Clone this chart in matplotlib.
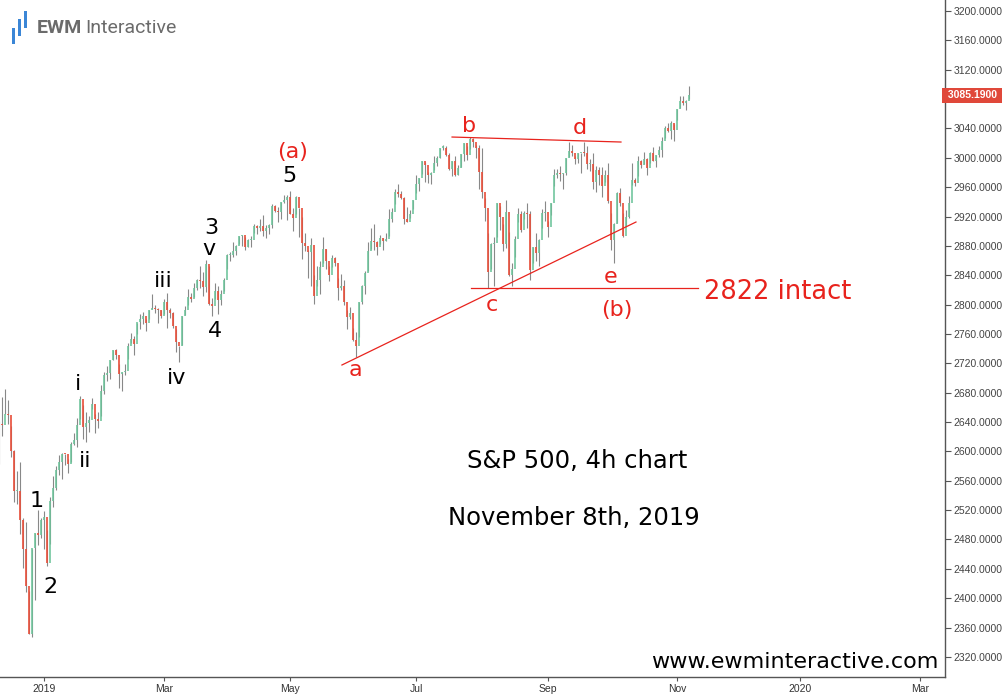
import numpy as np
import pandas as pd
import matplotlib
matplotlib.use('Agg')
from matplotlib import pyplot as plt
from matplotlib.patches import Rectangle
import matplotlib.transforms as mtransforms


# S&P 500 daily bars, Dec 10 2018 -> Nov 7 2019
highs = [2641, 2674, 2685, 2670, 2635, 2602, 2573, 2585, 2509, 2504, 2410, 2467, 2489, 2520, 2509,  # Dec
         2519, 2493, 2538, 2566, 2580, 2595, 2598, 2597, 2589, 2613, 2625, 2645, 2675, 2663, 2653, 2648, 2673, 2651, 2653, 2690, 2708,  # Jan
         2716, 2725, 2738, 2739, 2719, 2708, 2719, 2748, 2761, 2757, 2775, 2787, 2790, 2781, 2793, 2814, 2800, 2795, 2793,  # Feb
         2808, 2816, 2795, 2790, 2767, 2743, 2784, 2798, 2821, 2816, 2830, 2835, 2852, 2844, 2861, 2853, 2809, 2830, 2826, 2820, 2836,  # Mar
         2869, 2872, 2885, 2881, 2894, 2895, 2892, 2889, 2894, 2910, 2909, 2916, 2922, 2908, 2910, 2937, 2936, 2933, 2940, 2949, 2949,  # Apr
         2955, 2932, 2948, 2932, 2919, 2898, 2875, 2891, 2840, 2852, 2859, 2892, 2876, 2853, 2868, 2865, 2836, 2841, 2834, 2792, 2797, 2768,  # May
         2763, 2804, 2827, 2846, 2885, 2904, 2910, 2886, 2895, 2891, 2898, 2930, 2932, 2958, 2964, 2955, 2946, 2933, 2929, 2943,  # Jun
         2977, 2973, 2996, 2994, 2980, 2981, 3003, 3003, 3014, 3018, 3016, 3006, 2996, 3002, 2990, 3005, 3020, 3016, 3028, 3027, 3018, 3017,  # Jul
         3014, 2945, 2898, 2884, 2892, 2939, 2935, 2910, 2943, 2899, 2856, 2893, 2932, 2927, 2928, 2939, 2928, 2879, 2898, 2890, 2930, 2941,  # Aug
         2914, 2938, 2985, 2985, 2989, 2979, 3000, 3021, 3017, 3003, 3006, 3007, 3022, 3016, 2999, 3007, 2989, 2987, 2987, 2983,  # Sep
         2993, 2925, 2911, 2953, 2959, 2925, 2929, 2948, 2993, 2972, 3003, 2997, 3008, 3000, 3008, 3015, 3004, 3016, 3028, 3044, 3047, 3050, 3046,  # Oct
         3067, 3084, 3084, 3079, 3098]  # Nov
lows = [2583, 2621, 2651, 2637, 2593, 2531, 2528, 2488, 2441, 2409, 2351, 2347, 2397, 2473, 2482,
        2467, 2444, 2474, 2524, 2548, 2568, 2562, 2581, 2570, 2585, 2609, 2606, 2644, 2617, 2613, 2626, 2658, 2625, 2632, 2648, 2678,
        2696, 2698, 2724, 2726, 2687, 2682, 2704, 2726, 2748, 2731, 2760, 2767, 2774, 2764, 2781, 2794, 2788, 2775, 2782,
        2787, 2768, 2782, 2768, 2735, 2722, 2745, 2786, 2800, 2803, 2810, 2820, 2823, 2812, 2817, 2800, 2785, 2808, 2787, 2799, 2818,
        2848, 2859, 2865, 2867, 2882, 2880, 2874, 2879, 2879, 2898, 2896, 2900, 2894, 2891, 2896, 2904, 2926, 2913, 2917, 2939, 2915,
        2923, 2900, 2924, 2892, 2862, 2873, 2836, 2825, 2801, 2826, 2815, 2856, 2849, 2832, 2851, 2852, 2806, 2820, 2800, 2767, 2781, 2750,
        2729, 2756, 2801, 2814, 2846, 2876, 2874, 2868, 2882, 2874, 2887, 2894, 2913, 2937, 2946, 2944, 2910, 2912, 2918, 2930,
        2952, 2955, 2978, 2967, 2966, 2964, 2984, 2989, 3000, 3010, 3002, 2984, 2975, 2975, 2976, 2988, 2996, 2997, 3012, 3015, 3000, 2958,
        2945, 2914, 2822, 2848, 2825, 2892, 2901, 2873, 2877, 2839, 2825, 2865, 2913, 2899, 2917, 2904, 2834, 2856, 2860, 2853, 2905, 2914,
        2892, 2922, 2962, 2972, 2969, 2957, 2976, 3001, 3002, 2991, 2993, 2979, 3003, 2985, 2982, 2957, 2953, 2963, 2946, 2967,
        2938, 2874, 2856, 2911, 2935, 2892, 2907, 2918, 2963, 2962, 2975, 2986, 2991, 2976, 2993, 2995, 2988, 3001, 3001, 3027, 3035, 3026, 3023,
        3051, 3068, 3072, 3065, 3080]
closes = [2637, 2636, 2651, 2650, 2600, 2546, 2546, 2507, 2467, 2417, 2351, 2468, 2489, 2486, 2507,
          2510, 2448, 2532, 2550, 2574, 2585, 2597, 2596, 2583, 2610, 2616, 2636, 2671, 2633, 2639, 2643, 2665, 2644, 2641, 2682, 2704,
          2707, 2725, 2738, 2732, 2706, 2708, 2710, 2744, 2753, 2746, 2776, 2780, 2785, 2775, 2793, 2796, 2794, 2793, 2784,
          2804, 2792, 2789, 2771, 2749, 2743, 2784, 2792, 2811, 2808, 2822, 2833, 2832, 2824, 2855, 2801, 2798, 2818, 2806, 2815, 2834,
          2867, 2867, 2873, 2880, 2893, 2895, 2878, 2888, 2888, 2907, 2905, 2907, 2900, 2905, 2908, 2934, 2927, 2926, 2940, 2943, 2946,
          2924, 2918, 2946, 2932, 2884, 2880, 2871, 2881, 2812, 2834, 2851, 2876, 2860, 2840, 2864, 2856, 2823, 2826, 2803, 2783, 2789, 2752,
          2744, 2804, 2826, 2843, 2873, 2886, 2885, 2879, 2891, 2887, 2889, 2917, 2926, 2954, 2950, 2945, 2917, 2913, 2924, 2942,
          2964, 2973, 2996, 2990, 2976, 2979, 2993, 3000, 3014, 3014, 3004, 2985, 2995, 2977, 2986, 3005, 3020, 3004, 3026, 3021, 3013, 2980,
          2954, 2932, 2845, 2882, 2884, 2938, 2919, 2883, 2926, 2840, 2848, 2889, 2924, 2901, 2925, 2923, 2847, 2878, 2870, 2888, 2925, 2926,
          2906, 2938, 2976, 2979, 2978, 2979, 3000, 3009, 3007, 2998, 3006, 3007, 3006, 2992, 2992, 2967, 2984, 2977, 2962, 2977,
          2941, 2888, 2910, 2952, 2939, 2893, 2919, 2938, 2970, 2966, 2995, 2990, 2998, 2986, 3007, 2996, 3004, 3010, 3023, 3040, 3037, 3047, 3038,
          3067, 3078, 3075, 3077, 3085.19]
first_open = 2631

last_price = 3085.19
support = 2822

yticks = np.arange(2320, 3201, 40)
month_ticks = ['2019-01', '2019-03', '2019-05', '2019-07', '2019-09', '2019-11', '2020-01', '2020-03']
month_labels = ['2019', 'Mar', 'May', 'Jul', 'Sep', 'Nov', '2020', 'Mar']

holidays = ['2018-12-25', '2019-01-01', '2019-01-21', '2019-02-18', '2019-04-19', '2019-05-27',
            '2019-07-04', '2019-09-02', '2019-11-28', '2019-12-25', '2020-01-01', '2020-01-20', '2020-02-17']

RED = '#e8231d'

#trading day calendar -> x positions are session numbers
tdays = pd.bdate_range('2018-12-10', '2020-03-31')
tdays = tdays[~tdays.isin(pd.to_datetime(holidays))]

highs = np.array(highs, dtype=float)
lows = np.array(lows, dtype=float)
closes = np.array(closes, dtype=float)
opens = np.r_[first_open, closes[:-1]]
x = np.arange(len(closes))

fig = plt.figure(figsize=(10.02, 6.98), dpi=100)
ax = fig.add_axes([0, 21/698., 945/1002., 677/698.])

# candles
up = closes >= opens
ax.vlines(x, lows, highs, color='#6a6a6a', lw=0.8, alpha=0.8, zorder=2)
body_lo = np.minimum(opens, closes)
body_h = np.maximum(np.abs(closes-opens), 1.5)
ax.bar(x[up], body_h[up], bottom=body_lo[up], width=0.55, color='#6cc49a', alpha=0.8, lw=0, zorder=3)
ax.bar(x[~up], body_h[~up], bottom=body_lo[~up], width=0.55, color='#e8503c', alpha=0.85, lw=0, zorder=3)

ax.set_xlim(0.33, 315.3)
ax.set_ylim(2292.6, 3215)

# wave lines
ax.plot([114.3, 212.3], [2717.7, 2912.5], color=RED, lw=0.9, zorder=4)
ax.plot([151, 207.3], [3028.3, 3021.5], color=RED, lw=0.9, zorder=4)
ax.plot([157.3, 233], [support, support], color=RED, lw=0.9, zorder=4)

# wave labels
black_labels = [('1', 12.7, 2532), ('2', 17.0, 2415), ('i', 26.3, 2692), ('ii', 28.7, 2587),
                ('iii', 54.7, 2832), ('iv', 59.3, 2700), ('3', 70.7, 2904), ('v', 70.0, 2876),
                ('4', 72.0, 2764), ('5', 96.7, 2975)]
for s, xx, yy in black_labels:
    ax.text(xx, yy, s, fontsize=16, color='black', ha='center', va='center', zorder=5)
red_labels = [('(a)', 98.0, 3008), ('a', 118.7, 2711), ('b', 156.7, 3043), ('c', 164.3, 2800),
              ('d', 193.7, 3041), ('e', 203.7, 2838), ('(b)', 206.0, 2793)]
for s, xx, yy in red_labels:
    ax.text(xx, yy, s, fontsize=16, color=RED, ha='center', va='center', zorder=5)
ax.text(259.7, 2817, '2822 intact', fontsize=18.5, color=RED, ha='center', va='center', zorder=5)

ax.text(192.7, 2587, 'S&P 500, 4h chart', fontsize=17.5, ha='center', va='center')
ax.text(191.7, 2509, 'November 8th, 2019', fontsize=17.5, ha='center', va='center')

# axes styling
for sp in ['top', 'left']:
    ax.spines[sp].set_visible(False)
for sp in ['right', 'bottom']:
    ax.spines[sp].set_color('#555555')
    ax.spines[sp].set_linewidth(1.0)
ax.yaxis.tick_right()
ax.set_yticks(yticks)
ax.set_yticklabels(['%.4f' % v for v in yticks])
tick_pos = [int(np.searchsorted(tdays, pd.Timestamp(m + '-01'))) for m in month_ticks]
ax.set_xticks(tick_pos)
ax.set_xticklabels(month_labels)
ax.tick_params(axis='y', direction='out', length=4, width=0.8, color='#555555', labelsize=7.5,
               labelcolor='#444444', pad=2)
ax.tick_params(axis='x', direction='out', length=3, width=0.8, color='#555555', labelsize=7.5,
               labelcolor='#333333', pad=2)
for lab in ax.get_yticklabels() + ax.get_xticklabels():
    lab.set_family('Liberation Sans')

# last price tag
trans = mtransforms.blended_transform_factory(ax.transAxes, ax.transData)
ax.text(1.0, last_price, ' %.4f ' % last_price, transform=trans, fontsize=7.5, color='white',
        fontweight='bold', family='Liberation Sans', ha='left', va='center', clip_on=False,
        bbox=dict(boxstyle='square,pad=0.25', fc='#e0483a', ec='none'))

# website watermark
ax.text(0.993, 0.008, 'www.ewminteractive.com', transform=ax.transAxes, fontsize=16, ha='right',
        va='bottom', zorder=6, bbox=dict(boxstyle='square,pad=0.15', fc='white', ec='none'))

# logo
for (x0, y0, w, h) in [(12, 28, 3, 16), (18, 19, 3, 17), (24, 11, 3, 17)]:
    fig.add_artist(Rectangle((x0/1002., 1-(y0+h)/698.), w/1002., h/698., transform=fig.transFigure,
                             fc='#3b86d6', ec='none'))
fig.text(37/1002., 1-28/698., 'EWM', fontsize=14, fontweight='bold', color='#6b6b6b',
         family='Roboto', va='center', ha='left')
fig.text(85/1002., 1-28/698., 'Interactive', fontsize=14, color='#6b6b6b', family='Roboto',
         va='center', ha='left')

plt.savefig('out.png', dpi=100)
plt.close()
